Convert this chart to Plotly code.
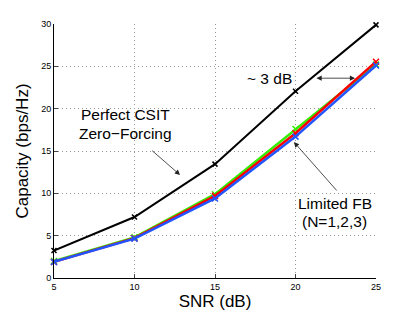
import plotly.graph_objects as go

snr = [5, 10, 15, 20, 25]
perfect_zf = [3.25, 7.2, 13.45, 22.05, 29.9]
fb_n1 = [2.0, 4.8, 9.9, 17.6, 25.2]
fb_n2 = [1.9, 4.7, 9.7, 17.1, 25.55]
fb_n3 = [1.9, 4.65, 9.4, 16.7, 25.1]
x_ticks = [5, 10, 15, 20, 25]
y_ticks = [0, 5, 10, 15, 20, 25, 30]

font = "Liberation Sans, Arial, Helvetica, sans-serif"

fig = go.Figure()

def add(y, color, width, msize):
    fig.add_trace(go.Scatter(
        x=snr, y=y, mode="lines+markers",
        line=dict(color=color, width=width),
        marker=dict(symbol="x-thin-open", size=msize, color=color,
                    line=dict(color=color, width=1.5)),
        showlegend=False, cliponaxis=False))

add(perfect_zf, "black", 2, 5)
add(fb_n1, "#33ee00", 2.5, 6)
add(fb_n2, "#ff0000", 2.5, 6)
add(fb_n3, "#2255ff", 2.5, 6)

ann_font = dict(family=font, size=15.5, color="black")

def label(x, y, text):
    return dict(x=x, y=y, text=text, showarrow=False, font=ann_font,
                xanchor="center", yanchor="middle")

annotations = [
    label(9.45, 19.3, "Perfect CSIT"),
    label(9.45, 17.1, "Zero\u2212Forcing"),
    dict(x=12.83, y=12.17, ax=11.0, ay=15.2, axref="x", ayref="y",
         xref="x", yref="y", showarrow=True, arrowhead=2, arrowsize=1.3,
         arrowwidth=0.8, arrowcolor="#222", text=""),
    label(18.39, 23.6, "~ 3 dB"),
    dict(x=23.7, y=23.6, ax=21.21, ay=23.6, axref="x", ayref="y",
         xref="x", yref="y", showarrow=True, arrowhead=2, startarrowhead=2,
         arrowside="end+start", arrowsize=1.3, arrowwidth=0.8,
         arrowcolor="#222", text=""),
    label(22.45, 8.85, "Limited FB"),
    label(22.45, 6.7, "(N=1,2,3)"),
    dict(x=19.9, y=16.06, ax=22.64, ay=10.16, axref="x", ayref="y",
         xref="x", yref="y", showarrow=True, arrowhead=2, arrowsize=1.3,
         arrowwidth=0.8, arrowcolor="#222", text=""),
]

axis_common = dict(ticks="inside", ticklen=4, showline=True, linecolor="black",
                   linewidth=1, showgrid=True, gridcolor="#999999",
                   griddash="1px,3px", gridwidth=1, zeroline=False,
                   tickfont=dict(size=9), automargin=False)

fig.update_layout(
    width=415, height=312,
    margin=dict(l=54, r=39, t=24, b=34),
    paper_bgcolor="white", plot_bgcolor="white",
    font=dict(family=font, color="black"),
    annotations=annotations,
    xaxis=dict(range=[5, 25], tickvals=x_ticks, **axis_common,
               title=dict(text="SNR (dB)", font=dict(size=17), standoff=4)),
    yaxis=dict(range=[0, 30], tickvals=y_ticks, **axis_common,
               title=dict(text="Capacity (bps/Hz)", font=dict(size=17), standoff=8)),
)

fig.write_html("out.html", config={"displayModeBar": False},
               post_script="document.body.style.margin='0';document.body.style.padding='0';")
